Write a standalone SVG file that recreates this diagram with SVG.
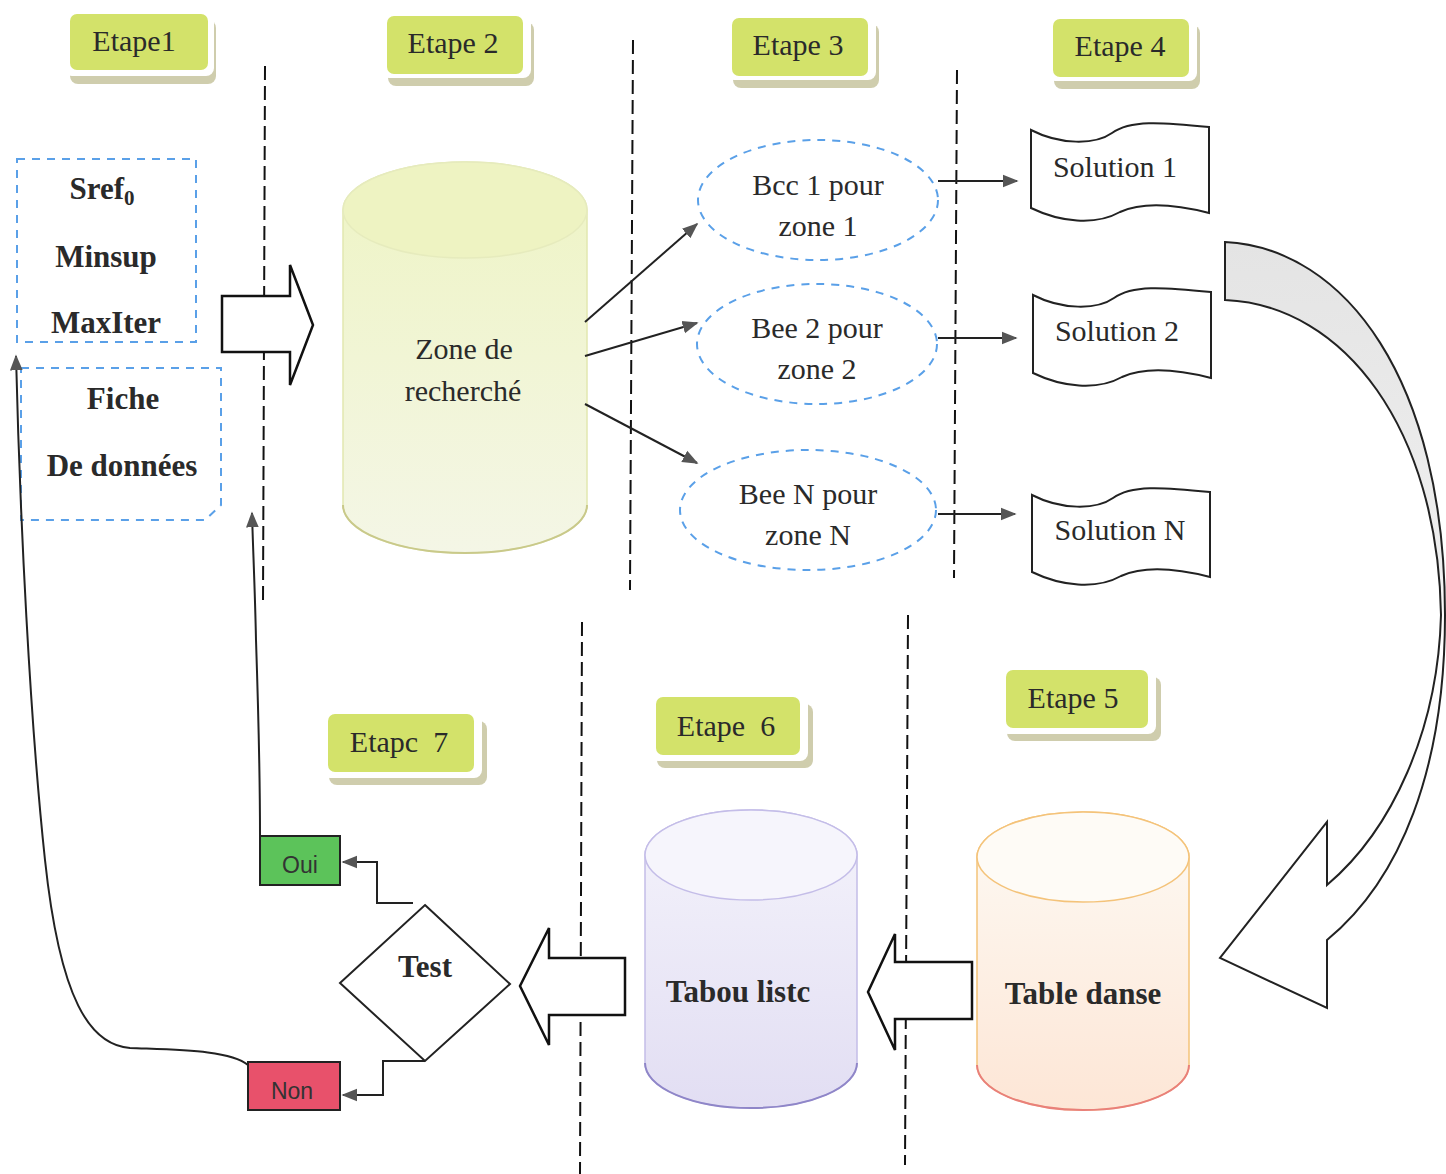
<svg xmlns="http://www.w3.org/2000/svg" width="1446" height="1174" viewBox="0 0 1446 1174">
<style>
.t{font-family:"Liberation Serif","Times New Roman",serif;font-size:30px;fill:#2a2a2a;text-anchor:middle}
.b{font-weight:bold;font-size:31px}
.s{font-family:"Liberation Sans",Arial,sans-serif;font-size:23px;fill:#333;text-anchor:middle}
.sep{stroke:#111;stroke-width:2;stroke-dasharray:14,6;fill:none}
.bd{fill:none;stroke:#5aa0e8;stroke-width:2;stroke-dasharray:8,7}
.ln{fill:none;stroke:#222;stroke-width:2}
.blk{fill:#fff;stroke:#111;stroke-width:2.5;stroke-linejoin:miter}
.etg{fill:#d3e26a}
.ets{fill:#a8a46a;opacity:.55}
</style>
<defs>
<marker id="ah2" viewBox="0 0 10 10" refX="9" refY="5" markerWidth="16" markerHeight="16" orient="auto" markerUnits="userSpaceOnUse">
<path d="M0,1 L10,5 L0,9 z" fill="#555"/>
</marker>
<linearGradient id="gz" x1="0" y1="0" x2="0" y2="1">
<stop offset="0" stop-color="#eef4c4"/><stop offset="1" stop-color="#f4f6e6"/>
</linearGradient>
<linearGradient id="gt" x1="0" y1="0" x2="0" y2="1">
<stop offset="0" stop-color="#f4f3fb"/><stop offset="1" stop-color="#e2def3"/>
</linearGradient>
<linearGradient id="gd" x1="0" y1="0" x2="0" y2="1">
<stop offset="0" stop-color="#fdfaf4"/><stop offset="1" stop-color="#fde6d6"/>
</linearGradient>
<linearGradient id="gc" x1="0" y1="0" x2="0" y2="1">
<stop offset="0" stop-color="#e4e4e4"/><stop offset="0.42" stop-color="#eeeeee"/><stop offset="0.5" stop-color="#ffffff"/><stop offset="1" stop-color="#ffffff"/>
</linearGradient>
</defs>

<g id="separators">
<line class="sep" x1="265" y1="66" x2="263" y2="606"/>
<line class="sep" x1="633" y1="40" x2="630" y2="590"/>
<line class="sep" x1="957" y1="70" x2="954" y2="578"/>
<line class="sep" x1="582" y1="622" x2="580" y2="1174"/>
<line class="sep" x1="908" y1="615" x2="905" y2="1165"/>
</g>

<g id="etape1"><rect class="ets" x="70" y="20" width="146" height="64" rx="8"/><rect x="64" y="10" width="150" height="66" rx="8" fill="#fff"/><rect class="etg" x="70" y="14" width="138" height="56" rx="7"/><text class="t" x="134" y="51">Etape1</text></g>
<g id="etape2"><rect class="ets" x="388" y="22" width="146" height="64" rx="8"/><rect x="381" y="12" width="150" height="66" rx="8" fill="#fff"/><rect class="etg" x="387" y="16" width="136" height="58" rx="7"/><text class="t" x="453" y="53">Etape 2</text></g>
<g id="etape3"><rect class="ets" x="733" y="24" width="146" height="64" rx="8"/><rect x="726" y="14" width="150" height="66" rx="8" fill="#fff"/><rect class="etg" x="732" y="18" width="136" height="58" rx="7"/><text class="t" x="798" y="55">Etape 3</text></g>
<g id="etape4"><rect class="ets" x="1054" y="25" width="146" height="64" rx="8"/><rect x="1047" y="15" width="150" height="66" rx="8" fill="#fff"/><rect class="etg" x="1053" y="19" width="136" height="58" rx="7"/><text class="t" x="1120" y="56">Etape 4</text></g>
<g id="etape5"><rect class="ets" x="1007" y="677" width="154" height="64" rx="8"/><rect x="1000" y="666" width="156" height="68" rx="8" fill="#fff"/><rect class="etg" x="1006" y="670" width="142" height="58" rx="7"/><text class="t" x="1073" y="708">Etape 5</text></g>
<g id="etape6"><rect class="ets" x="657" y="704" width="156" height="64" rx="8"/><rect x="650" y="693" width="158" height="68" rx="8" fill="#fff"/><rect class="etg" x="656" y="697" width="144" height="58" rx="7"/><text class="t" x="726" y="736">Etape&#160; 6</text></g>
<g id="etape7"><rect class="ets" x="329" y="721" width="158" height="64" rx="8"/><rect x="322" y="710" width="160" height="68" rx="8" fill="#fff"/><rect class="etg" x="328" y="714" width="146" height="58" rx="7"/><text class="t" x="399" y="752">Etapc&#160; 7</text></g>

<g id="params">
<rect class="bd" x="17" y="159" width="179" height="183"/>
<text class="t b" x="102" y="199">Sref<tspan font-size="21" dy="6">0</tspan></text>
<text class="t b" x="106" y="267">Minsup</text>
<text class="t b" x="106" y="333">MaxIter</text>
</g>
<g id="fiche">
<path class="bd" d="M21,368 H221 V505 L205,520 H21 Z"/>
<text class="t b" x="123" y="409">Fiche</text>
<text class="t b" x="122" y="476">De données</text>
</g>

<g id="zone">
<path d="M343,210 A122,48 0 0 1 587,210 V505 A122,48 0 0 1 343,505 Z" fill="url(#gz)" stroke="#e2e8b0" stroke-width="1.5"/>
<ellipse cx="465" cy="210" rx="122" ry="48" fill="#eef3c2" stroke="#e6ebbd" stroke-width="1.5"/>
<path d="M343,505 A122,48 0 0 0 587,505" fill="none" stroke="#c9c98a" stroke-width="2"/>
<text class="t" x="464" y="359">Zone de</text>
<text class="t" x="463" y="401">recherché</text>
</g>

<g id="bee1"><ellipse class="bd" cx="818" cy="200" rx="120" ry="60"/><text class="t" x="818" y="195">Bcc 1 pour</text><text class="t" x="818" y="236">zone 1</text></g>
<g id="bee2"><ellipse class="bd" cx="817" cy="344" rx="120" ry="60"/><text class="t" x="817" y="338">Bee 2 pour</text><text class="t" x="817" y="379">zone 2</text></g>
<g id="beeN"><ellipse class="bd" cx="808" cy="510" rx="128" ry="60"/><text class="t" x="808" y="504">Bee N pour</text><text class="t" x="808" y="545">zone N</text></g>

<g id="sol1"><path class="ln" d="M1031,130 C1060,145 1095,145 1112,133 C1130,120 1160,122 1209,127 V213 C1170,203 1140,203 1120,212 C1095,226 1060,222 1031,208 Z" fill="#fff"/><text class="t" x="1115" y="177">Solution 1</text></g>
<g id="sol2"><path class="ln" d="M1033,295 C1062,310 1097,310 1114,298 C1132,285 1162,287 1211,292 V378 C1172,368 1142,368 1122,377 C1097,391 1062,387 1033,373 Z" fill="#fff"/><text class="t" x="1117" y="341">Solution 2</text></g>
<g id="solN"><path class="ln" d="M1032,495 C1061,510 1096,510 1113,498 C1131,485 1161,487 1210,492 V577 C1171,567 1141,567 1121,576 C1096,590 1061,586 1032,572 Z" fill="#fff"/><text class="t" x="1120" y="540">Solution N</text></g>

<g id="tabou">
<path d="M645,855 A106,45 0 0 1 857,855 V1063 A106,45 0 0 1 645,1063 Z" fill="url(#gt)" stroke="#c4bde8" stroke-width="1.5"/>
<ellipse cx="751" cy="855" rx="106" ry="45" fill="#f6f5fc" stroke="#c4bde8" stroke-width="1.5"/>
<path d="M645,1063 A106,45 0 0 0 857,1063" fill="none" stroke="#8f86c8" stroke-width="2"/>
<text class="t b" x="738" y="1002">Tabou listc</text>
</g>
<g id="tabledanse">
<path d="M977,857 A106,45 0 0 1 1189,857 V1065 A106,45 0 0 1 977,1065 Z" fill="url(#gd)" stroke="#f4c37a" stroke-width="1.5"/>
<ellipse cx="1083" cy="857" rx="106" ry="45" fill="#fefbf6" stroke="#f4c37a" stroke-width="1.5"/>
<path d="M977,1065 A106,45 0 0 0 1189,1065" fill="none" stroke="#e9807a" stroke-width="2"/>
<text class="t b" x="1083" y="1004">Table danse</text>
</g>

<g id="test"><path d="M425,905 L510,984 L425,1061 L340,983 Z" fill="#fff" stroke="#222" stroke-width="2"/><text class="t b" x="425" y="977">Test</text></g>
<g id="oui"><rect x="260" y="836" width="80" height="49" fill="#5cc35a" stroke="#222" stroke-width="2"/><text class="s" x="300" y="873">Oui</text></g>
<g id="non"><rect x="248" y="1062" width="92" height="48" fill="#e8516b" stroke="#222" stroke-width="2"/><text class="s" x="292" y="1099">Non</text></g>

<g id="connectors">
<path class="blk" d="M222,296 H290 V265 L313,325 L290,385 V352 H222 Z"/>
<path class="ln" d="M585,322 L697,224" marker-end="url(#ah2)"/>
<path class="ln" d="M585,356 L697,323" marker-end="url(#ah2)"/>
<path class="ln" d="M585,404 L697,463" marker-end="url(#ah2)"/>
<path class="ln" d="M938,181 L1017,181" marker-end="url(#ah2)"/>
<path class="ln" d="M938,338 L1016,338" marker-end="url(#ah2)"/>
<path class="ln" d="M938,514 L1015,514" marker-end="url(#ah2)"/>
<path d="M1225,242 C1345,248 1445,380 1445,615 C1445,770 1400,880 1327,940 L1327,1008 L1220,958 L1327,822 L1327,885 C1392,830 1438,730 1441,615 C1438,430 1345,305 1225,300 Z" fill="url(#gc)" stroke="#222" stroke-width="2"/>
<path class="blk" d="M972,962 V1019 H895 V1050 L868,992 L895,934 V962 Z"/>
<path class="blk" d="M625,958 V1015 H549 V1045 L520,986 L549,928 V958 Z"/>
<path class="ln" d="M413,903 H377 V862 H343" marker-end="url(#ah2)"/>
<path class="ln" d="M425,1061 H383 V1095 H343" marker-end="url(#ah2)"/>
<path class="ln" d="M260,836 C260,760 258,700 256,640 C255,590 253,550 252,513" marker-end="url(#ah2)"/>
<path class="ln" d="M248,1065 C230,1050 180,1050 130,1048 C90,1045 60,1000 45,860 C30,720 20,520 16,356" marker-end="url(#ah2)"/>
</g>
</svg>
